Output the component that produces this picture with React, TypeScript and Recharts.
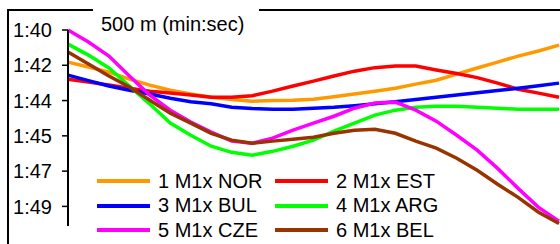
import { Legend, Line, LineChart, XAxis, YAxis } from "recharts";

// distance along the course (m) at each sampled point
const distance = [0, 20, 40, 60, 80, 100, 120, 140, 160, 180, 200, 220, 240, 260, 280, 300, 320, 340, 360, 380, 400, 420, 440, 460, 480];

// pace per 500 m, in seconds
const nor = [101.64, 101.89, 102.15, 102.51, 102.81, 103.07, 103.27, 103.43, 103.55, 103.63, 103.6, 103.58, 103.53, 103.4, 103.27, 103.12, 102.97, 102.76, 102.56, 102.25, 101.94, 101.64, 101.33, 101.07, 100.77];
const est = [102.51, 102.66, 102.81, 102.97, 103.12, 103.22, 103.32, 103.43, 103.43, 103.35, 103.12, 102.86, 102.61, 102.35, 102.1, 101.92, 101.84, 101.84, 102.04, 102.22, 102.43, 102.71, 103.02, 103.22, 103.43];
const bul = [102.3, 102.58, 102.86, 103.07, 103.27, 103.48, 103.66, 103.76, 103.94, 104.01, 104.04, 104.04, 103.99, 103.94, 103.86, 103.76, 103.66, 103.55, 103.43, 103.32, 103.2, 103.09, 102.97, 102.84, 102.71];
const arg = [100.72, 101.28, 101.94, 102.86, 103.78, 104.75, 105.37, 105.93, 106.24, 106.39, 106.19, 105.93, 105.62, 105.16, 104.75, 104.34, 104.09, 103.94, 103.89, 103.89, 103.94, 103.99, 104.04, 104.04, 104.04];
const cze = [100.0, 100.61, 101.33, 102.35, 103.32, 104.09, 104.7, 105.21, 105.67, 105.78, 105.52, 105.11, 104.75, 104.4, 103.99, 103.73, 103.68, 104.09, 104.65, 105.37, 106.13, 107.06, 108.08, 109.05, 109.76];
const bel = [101.12, 101.74, 102.35, 102.91, 103.58, 104.24, 104.75, 105.27, 105.62, 105.78, 105.67, 105.57, 105.47, 105.27, 105.11, 105.06, 105.27, 105.67, 106.03, 106.54, 107.16, 107.87, 108.54, 109.3, 109.87];

const yTicks = [100, 101.8, 103.6, 105.4, 107.2, 109];

const series = [
  { key: "nor", name: "1 M1x NOR", color: "#FF9900", values: nor },
  { key: "est", name: "2 M1x EST", color: "#FF0000", values: est },
  { key: "bul", name: "3 M1x BUL", color: "#0000FF", values: bul },
  { key: "arg", name: "4 M1x ARG", color: "#00FF00", values: arg },
  { key: "cze", name: "5 M1x CZE", color: "#FF00FF", values: cze },
  { key: "bel", name: "6 M1x BEL", color: "#993300", values: bel },
];

const data = distance.map((d, i) => {
  const row: Record<string, number> = { d };
  series.forEach((s) => (row[s.key] = s.values[i]));
  return row;
});

const font = '"Liberation Sans", Arial, sans-serif';

function formatTime(v: number) {
  const r = Math.round(v);
  return `${Math.floor(r / 60)}:${String(r % 60).padStart(2, "0")}`;
}

function renderLegend() {
  return (
    <div style={{ display: "grid", gridTemplateColumns: "178px 178px", fontFamily: font, fontSize: 20, color: "#000" }}>
      {series.map((s) => (
        <div key={s.key} style={{ display: "flex", alignItems: "center", height: 24.5 }}>
          <span style={{ width: 53, height: 4, background: s.color, marginRight: 8, display: "inline-block" }} />
          <span>{s.name}</span>
        </div>
      ))}
    </div>
  );
}

export default function App() {
  return (
    <div style={{ position: "absolute", left: 0, top: 0, width: 560, height: 244, overflow: "hidden", background: "#fff" }}>
      <div style={{ position: "absolute", left: 7, top: 9, width: 700, height: 400, border: "2px solid #000", boxSizing: "border-box" }} />
      <LineChart width={560} height={244} data={data} margin={{ top: 30, right: 1, bottom: 18, left: 0 }} style={{ fontFamily: font }}>
        <XAxis dataKey="d" type="number" domain={[0, 480]} hide />
        <YAxis
          reversed
          domain={[100, 110]}
          ticks={yTicks}
          width={68}
          tickFormatter={formatTime}
          tickSize={6}
          tickMargin={10}
          axisLine={{ stroke: "#000", strokeWidth: 2 }}
          tickLine={{ stroke: "#000", strokeWidth: 1.5 }}
          tick={{ fill: "#000", fontSize: 20, fontFamily: font }}
          interval={0}
        />
        {series.map((s) => (
          <Line key={s.key} dataKey={s.key} name={s.name} stroke={s.color} strokeWidth={3.5} dot={false} isAnimationActive={false} />
        ))}
        <Legend content={renderLegend} layout="horizontal" verticalAlign="middle" align="center" wrapperStyle={{ left: 97, top: 169, width: 360 }} />
      </LineChart>
      <div style={{ position: "absolute", left: 93, top: 0, width: 166, height: 20, background: "#fff" }} />
      <div style={{ position: "absolute", left: 101, top: 14, fontFamily: font, fontSize: 20, lineHeight: "20px", color: "#000", whiteSpace: "pre" }}>500 m (min:sec)</div>
    </div>
  );
}
